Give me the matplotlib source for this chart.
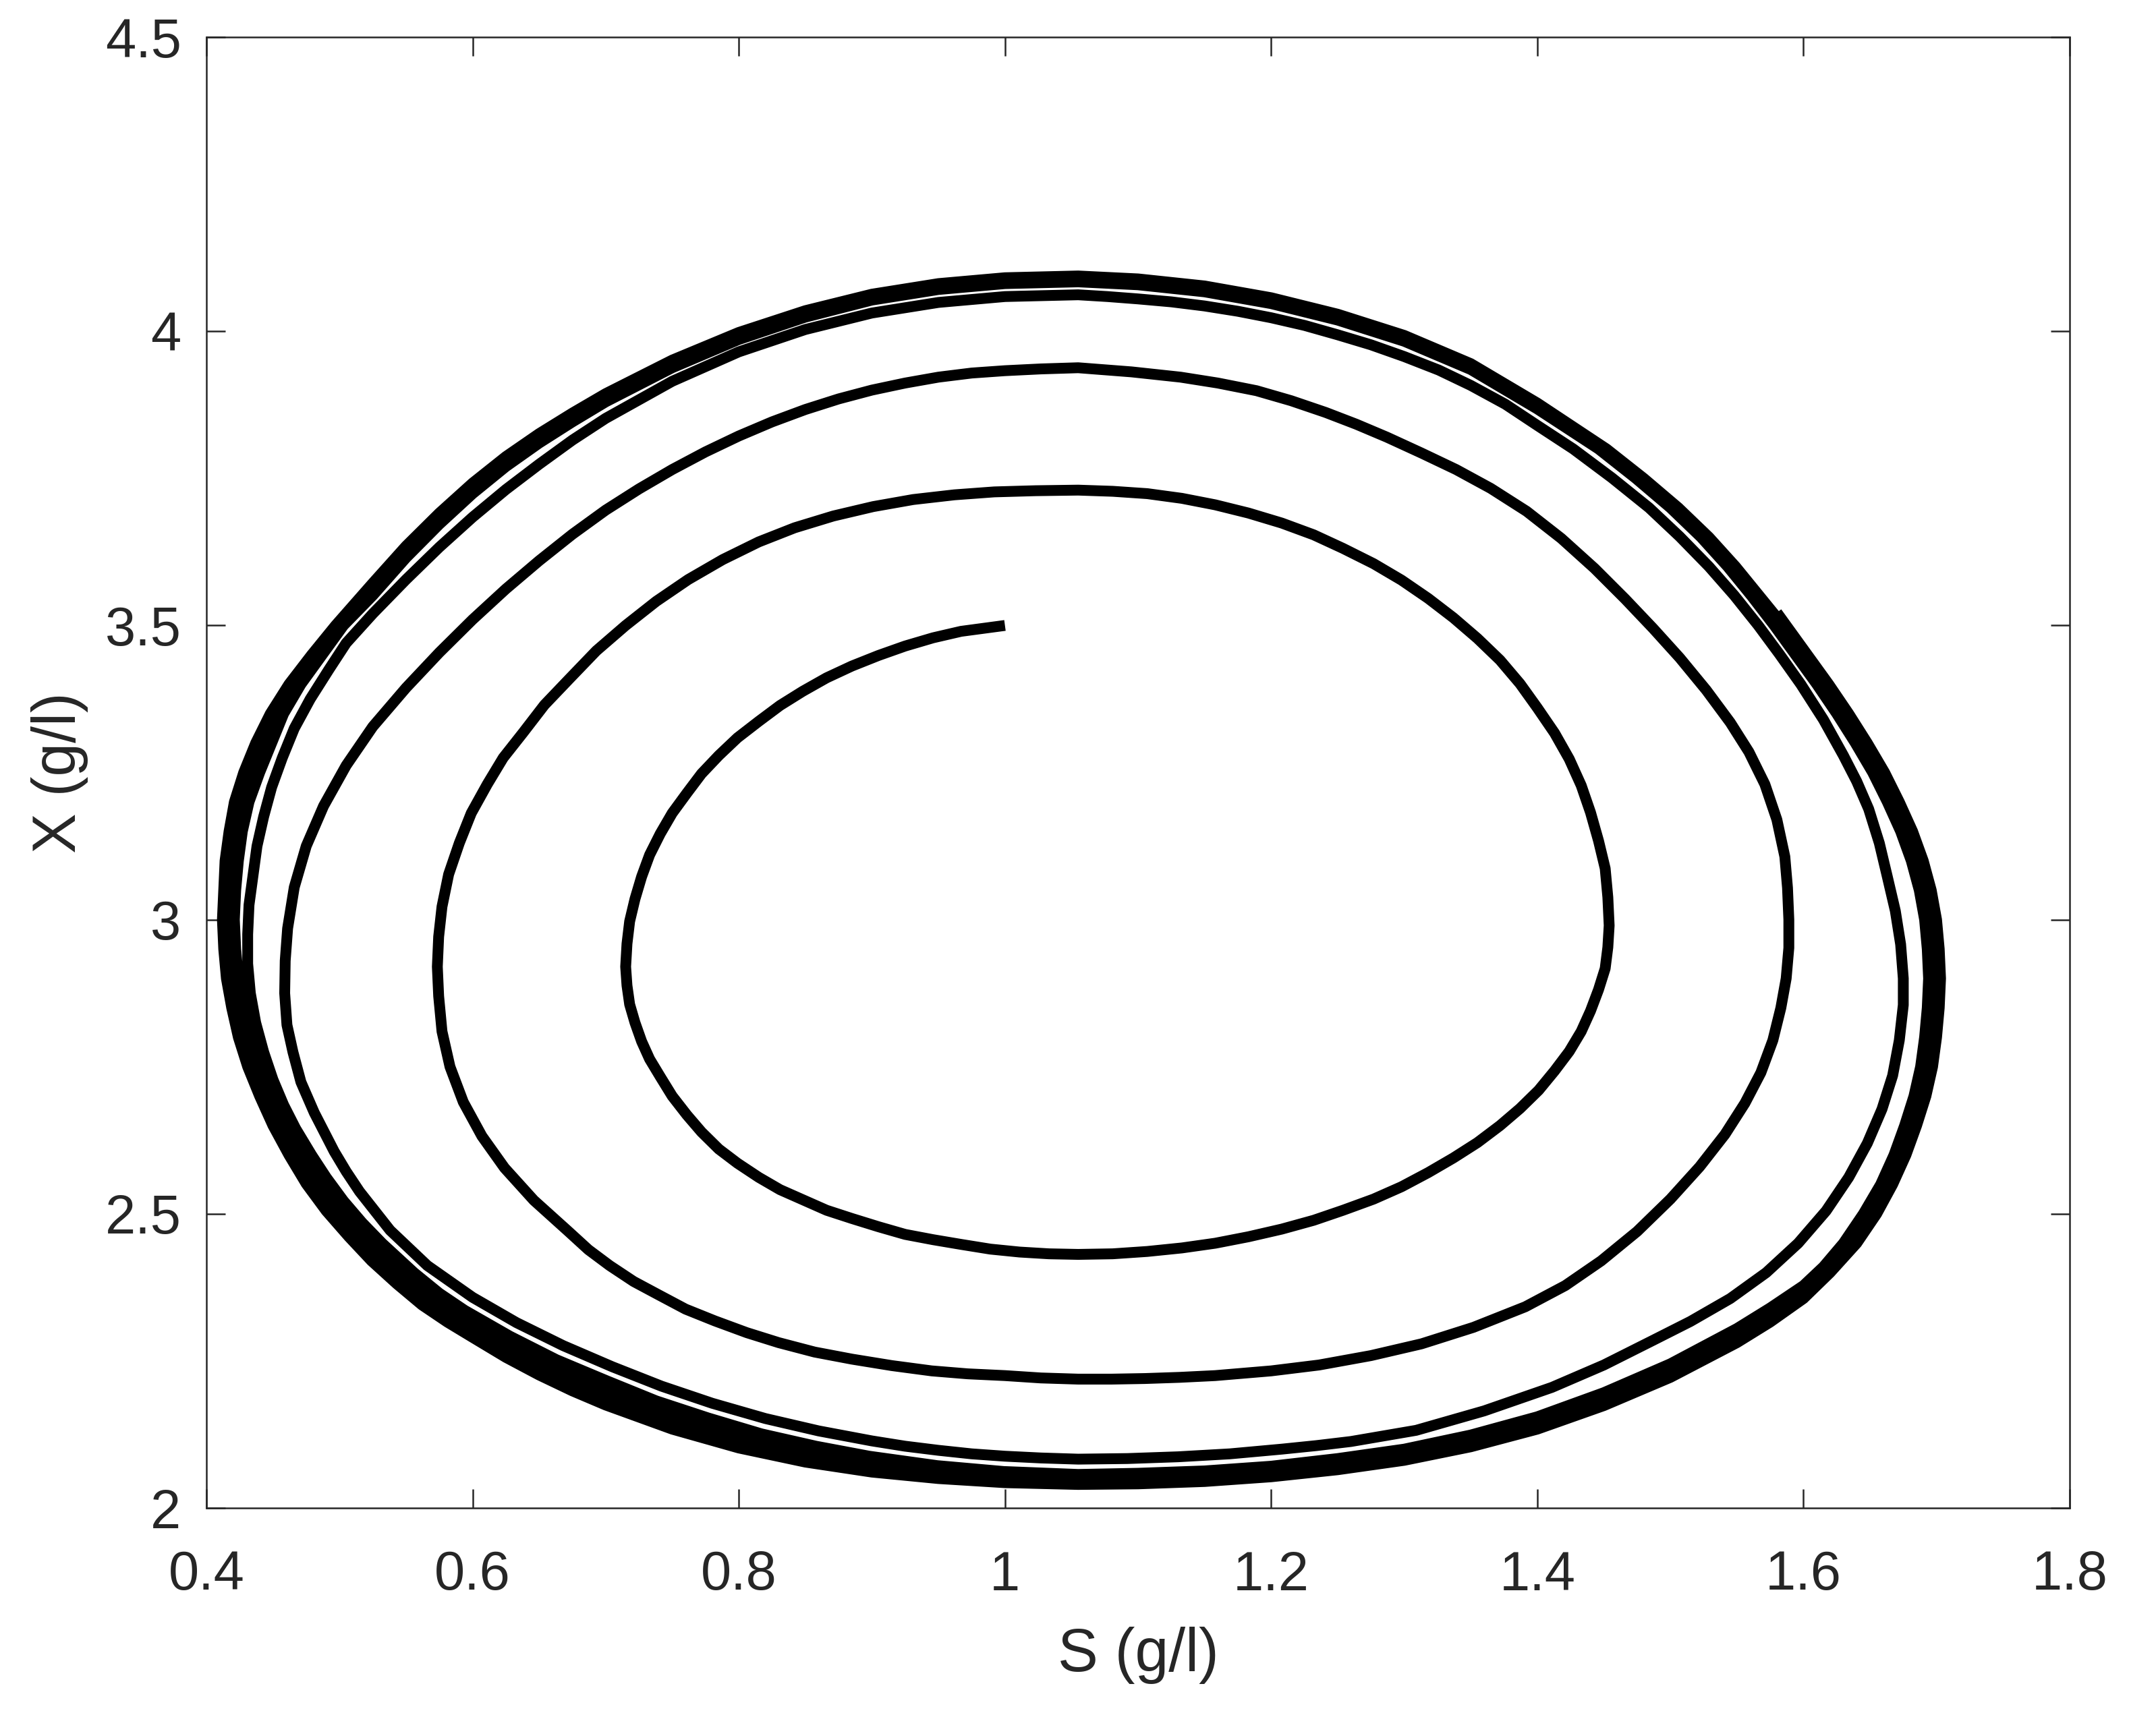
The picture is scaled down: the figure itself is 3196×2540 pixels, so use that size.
import numpy as np
import matplotlib
matplotlib.use("Agg")
import matplotlib.pyplot as plt
import matplotlib.ticker as ticker

# ── DATA: phase-plane trajectory, (S, X) in g/l ───────────────────────────────
# one list per turn of the spiral, from the start point out to the limit cycle

lap0 = [(1.000, 3.500), (0.967, 3.490), (0.946, 3.479), (0.925, 3.465),
        (0.905, 3.449), (0.885, 3.431), (0.866, 3.411), (0.848, 3.388), (0.831, 3.364),
        (0.815, 3.337), (0.799, 3.309), (0.785, 3.279), (0.772, 3.248), (0.761, 3.215),
        (0.750, 3.181), (0.741, 3.146), (0.733, 3.110), (0.727, 3.073), (0.722, 3.035),
        (0.718, 2.997), (0.716, 2.959), (0.715, 2.920), (0.716, 2.888), (0.718, 2.856),
        (0.722, 2.825), (0.727, 2.793), (0.733, 2.763), (0.741, 2.733), (0.750, 2.700),
        (0.761, 2.668), (0.772, 2.639), (0.785, 2.610), (0.799, 2.586), (0.815, 2.562),
        (0.831, 2.541), (0.848, 2.524), (0.866, 2.506), (0.885, 2.492), (0.905, 2.478),
        (0.925, 2.465), (0.946, 2.456), (0.967, 2.448), (0.989, 2.440), (1.011, 2.435),
        (1.033, 2.432), (1.055, 2.431), (1.081, 2.432), (1.107, 2.436), (1.133, 2.442),
        (1.158, 2.450), (1.183, 2.461), (1.208, 2.474), (1.232, 2.489), (1.254, 2.506),
        (1.277, 2.525), (1.298, 2.546), (1.318, 2.570), (1.337, 2.595), (1.355, 2.621),
        (1.372, 2.650), (1.387, 2.679), (1.401, 2.710), (1.413, 2.743), (1.424, 2.776),
        (1.433, 2.810), (1.440, 2.845), (1.446, 2.881), (1.451, 2.917), (1.453, 2.953),
        (1.454, 2.990), (1.453, 3.038), (1.451, 3.087), (1.446, 3.134), (1.440, 3.182),
        (1.433, 3.228), (1.424, 3.273), (1.413, 3.317), (1.400, 3.360), (1.387, 3.401),
        (1.372, 3.441), (1.355, 3.478), (1.337, 3.513), (1.318, 3.546), (1.298, 3.577),
        (1.277, 3.605), (1.254, 3.631), (1.232, 3.654), (1.208, 3.674), (1.183, 3.691),
        (1.158, 3.705), (1.133, 3.716), (1.107, 3.724), (1.081, 3.728)]

lap1 = [(1.055, 3.730), (1.023, 3.729), (0.992, 3.727), (0.962, 3.722), (0.931, 3.714),
        (0.901, 3.702), (0.871, 3.686), (0.842, 3.666), (0.815, 3.642), (0.788, 3.612),
        (0.762, 3.578), (0.738, 3.541), (0.715, 3.500), (0.693, 3.457), (0.673, 3.410),
        (0.654, 3.365), (0.638, 3.318), (0.623, 3.275), (0.611, 3.230), (0.599, 3.181),
        (0.590, 3.130), (0.582, 3.077), (0.577, 3.022), (0.5745, 2.971), (0.5735, 2.920),
        (0.5745, 2.870), (0.577, 2.810), (0.583, 2.750), (0.593, 2.690), (0.607, 2.632),
        (0.624, 2.578), (0.646, 2.523), (0.672, 2.470), (0.687, 2.439), (0.703, 2.412),
        (0.721, 2.385), (0.740, 2.362), (0.760, 2.338), (0.782, 2.318), (0.806, 2.298),
        (0.830, 2.281), (0.857, 2.265), (0.885, 2.253), (0.915, 2.242), (0.945, 2.233),
        (0.972, 2.228), (1.000, 2.225), (1.027, 2.221), (1.055, 2.219), (1.080, 2.219),
        (1.105, 2.220), (1.131, 2.222), (1.158, 2.225), (1.200, 2.233), (1.236, 2.243),
        (1.275, 2.259), (1.313, 2.279), (1.352, 2.307), (1.391, 2.342), (1.421, 2.378),
        (1.448, 2.420), (1.475, 2.470), (1.500, 2.525), (1.522, 2.580), (1.541, 2.635),
        (1.556, 2.688), (1.568, 2.740), (1.577, 2.795), (1.583, 2.850), (1.587, 2.900),
        (1.589, 2.952), (1.589, 3.000), (1.588, 3.054), (1.586, 3.107), (1.580, 3.170),
        (1.571, 3.230), (1.559, 3.285), (1.545, 3.335), (1.527, 3.390), (1.507, 3.445),
        (1.487, 3.495), (1.466, 3.545), (1.443, 3.597), (1.418, 3.648), (1.392, 3.694),
        (1.365, 3.733), (1.339, 3.765), (1.313, 3.793), (1.287, 3.820), (1.264, 3.842),
        (1.241, 3.862), (1.215, 3.882), (1.189, 3.899), (1.160, 3.912), (1.132, 3.922),
        (1.095, 3.931)]

lap2 = [(1.055, 3.938), (1.027, 3.936), (1.000, 3.933), (0.975, 3.929), (0.950, 3.922),
        (0.925, 3.912), (0.900, 3.900), (0.875, 3.885), (0.850, 3.867), (0.825, 3.846),
        (0.800, 3.822), (0.775, 3.795), (0.750, 3.765), (0.725, 3.732), (0.700, 3.696),
        (0.675, 3.655), (0.650, 3.610), (0.625, 3.562), (0.600, 3.510), (0.575, 3.454),
        (0.550, 3.394), (0.525, 3.328), (0.505, 3.262), (0.488, 3.193), (0.475, 3.125),
        (0.466, 3.055), (0.461, 2.985), (0.4592, 2.930), (0.4588, 2.875), (0.4605, 2.821),
        (0.465, 2.775), (0.471, 2.724), (0.481, 2.672), (0.496, 2.606), (0.505, 2.572),
        (0.515, 2.538), (0.538, 2.472), (0.566, 2.412), (0.600, 2.358), (0.633, 2.315),
        (0.668, 2.276), (0.705, 2.240), (0.742, 2.207), (0.780, 2.178), (0.820, 2.152),
        (0.860, 2.131), (0.900, 2.114), (0.925, 2.105), (0.950, 2.098), (0.975, 2.092),
        (1.000, 2.088), (1.027, 2.085), (1.055, 2.083), (1.092, 2.084), (1.130, 2.087),
        (1.169, 2.092), (1.208, 2.100), (1.234, 2.106), (1.260, 2.113), (1.309, 2.132),
        (1.360, 2.165), (1.411, 2.205), (1.450, 2.243), (1.487, 2.285), (1.515, 2.317),
        (1.545, 2.356), (1.572, 2.400), (1.596, 2.450), (1.617, 2.505), (1.634, 2.562),
        (1.648, 2.620), (1.659, 2.678), (1.667, 2.735), (1.672, 2.795), (1.675, 2.855),
        (1.675, 2.900), (1.673, 2.958), (1.669, 3.015), (1.663, 3.073), (1.657, 3.130),
        (1.649, 3.188), (1.640, 3.235), (1.630, 3.279), (1.615, 3.340), (1.598, 3.400),
        (1.582, 3.451), (1.566, 3.500), (1.548, 3.551), (1.529, 3.600), (1.507, 3.651),
        (1.484, 3.700), (1.456, 3.751), (1.427, 3.800), (1.400, 3.840), (1.376, 3.876),
        (1.350, 3.908), (1.326, 3.934), (1.300, 3.957), (1.275, 3.977), (1.250, 3.994),
        (1.225, 4.010), (1.200, 4.023), (1.175, 4.034), (1.150, 4.043), (1.125, 4.050),
        (1.100, 4.055), (1.077, 4.059)]

lap3 = [(1.055, 4.062), (1.000, 4.059), (0.950, 4.049), (0.900, 4.031), (0.850, 4.003),
        (0.800, 3.965), (0.750, 3.915), (0.700, 3.852), (0.675, 3.815), (0.650, 3.774),
        (0.625, 3.731), (0.600, 3.684), (0.575, 3.633), (0.550, 3.578), (0.525, 3.520),
        (0.505, 3.470), (0.492, 3.425), (0.478, 3.375), (0.466, 3.325), (0.457, 3.275),
        (0.449, 3.225), (0.443, 3.175), (0.438, 3.125), (0.435, 3.075), (0.432, 3.025),
        (0.431, 2.975), (0.431, 2.925), (0.433, 2.875), (0.437, 2.825), (0.443, 2.775),
        (0.450, 2.728), (0.458, 2.685), (0.467, 2.645), (0.479, 2.600), (0.490, 2.562),
        (0.503, 2.522), (0.517, 2.485), (0.532, 2.450), (0.556, 2.400), (0.575, 2.365),
        (0.594, 2.336), (0.628, 2.292), (0.663, 2.252), (0.701, 2.216), (0.738, 2.182),
        (0.777, 2.153), (0.817, 2.126), (0.858, 2.105), (0.898, 2.088), (0.949, 2.072),
        (0.999, 2.062), (1.055, 2.057), (1.100, 2.059), (1.150, 2.063), (1.200, 2.071),
        (1.250, 2.084), (1.300, 2.100), (1.350, 2.124), (1.400, 2.155), (1.450, 2.196),
        (1.500, 2.245), (1.550, 2.305), (1.575, 2.340), (1.600, 2.378), (1.615, 2.410),
        (1.630, 2.450), (1.645, 2.500), (1.658, 2.550), (1.668, 2.600), (1.676, 2.650),
        (1.683, 2.700), (1.688, 2.750), (1.691, 2.800), (1.693, 2.850), (1.694, 2.900),
        (1.693, 2.950), (1.691, 3.000), (1.687, 3.050), (1.681, 3.100), (1.673, 3.150),
        (1.663, 3.200), (1.652, 3.250), (1.639, 3.300), (1.625, 3.350), (1.610, 3.400),
        (1.594, 3.450), (1.578, 3.500), (1.561, 3.550), (1.543, 3.600), (1.523, 3.650),
        (1.500, 3.700), (1.474, 3.750), (1.446, 3.800), (1.400, 3.868), (1.350, 3.935),
        (1.300, 3.983), (1.250, 4.019), (1.200, 4.047), (1.150, 4.067), (1.100, 4.079)]

lap4 = [(1.055, 4.084), (1.000, 4.081), (0.950, 4.071), (0.900, 4.053), (0.850, 4.024),
        (0.800, 3.986), (0.750, 3.938), (0.700, 3.880), (0.675, 3.846), (0.650, 3.810),
        (0.625, 3.770), (0.600, 3.724), (0.575, 3.672), (0.550, 3.615), (0.525, 3.551),
        (0.503, 3.500), (0.487, 3.450), (0.471, 3.400), (0.458, 3.350), (0.449, 3.300),
        (0.440, 3.250), (0.432, 3.200), (0.427, 3.150), (0.424, 3.100), (0.422, 3.050),
        (0.421, 3.000), (0.422, 2.950), (0.424, 2.900), (0.428, 2.850), (0.434, 2.800),
        (0.441, 2.750), (0.450, 2.700), (0.460, 2.650), (0.473, 2.600), (0.487, 2.551),
        (0.503, 2.505), (0.520, 2.461), (0.543, 2.412), (0.562, 2.375), (0.581, 2.343),
        (0.600, 2.316), (0.625, 2.283), (0.650, 2.254), (0.675, 2.227), (0.700, 2.203),
        (0.750, 2.160), (0.800, 2.126), (0.850, 2.099), (0.900, 2.079), (0.950, 2.065),
        (1.000, 2.056), (1.055, 2.052), (1.100, 2.053), (1.150, 2.057), (1.200, 2.065),
        (1.250, 2.077), (1.300, 2.094), (1.350, 2.117), (1.400, 2.148), (1.450, 2.188),
        (1.500, 2.237), (1.550, 2.297), (1.575, 2.331), (1.600, 2.370), (1.617, 2.405),
        (1.633, 2.450), (1.648, 2.500), (1.661, 2.550), (1.671, 2.600), (1.679, 2.650),
        (1.686, 2.700), (1.691, 2.750), (1.694, 2.800), (1.696, 2.850), (1.697, 2.900),
        (1.696, 2.950), (1.694, 3.000), (1.690, 3.050), (1.684, 3.100), (1.676, 3.150),
        (1.666, 3.200), (1.655, 3.250), (1.642, 3.300), (1.628, 3.350), (1.613, 3.400),
        (1.597, 3.450), (1.581, 3.500), (1.564, 3.550), (1.546, 3.600), (1.526, 3.650),
        (1.503, 3.700), (1.477, 3.750), (1.449, 3.800), (1.400, 3.873), (1.350, 3.940),
        (1.300, 3.988), (1.250, 4.024), (1.200, 4.052), (1.150, 4.072), (1.100, 4.084)]

lap5 = [(1.055, 4.091), (1.000, 4.088), (0.950, 4.077), (0.900, 4.059), (0.850, 4.031),
        (0.800, 3.993), (0.750, 3.946), (0.700, 3.888), (0.675, 3.855), (0.650, 3.819),
        (0.625, 3.779), (0.600, 3.734), (0.575, 3.682), (0.550, 3.625), (0.525, 3.562),
        (0.500, 3.500), (0.483, 3.450), (0.466, 3.400), (0.452, 3.350), (0.442, 3.300),
        (0.433, 3.250), (0.426, 3.200), (0.421, 3.150), (0.418, 3.100), (0.417, 3.050),
        (0.416, 3.000), (0.417, 2.950), (0.419, 2.900), (0.423, 2.850), (0.428, 2.800),
        (0.435, 2.750), (0.444, 2.700), (0.455, 2.650), (0.467, 2.600), (0.481, 2.551),
        (0.496, 2.505), (0.514, 2.461), (0.528, 2.428), (0.543, 2.396), (0.562, 2.360),
        (0.581, 2.329), (0.600, 2.303), (0.625, 2.269), (0.650, 2.240), (0.675, 2.213),
        (0.700, 2.189), (0.750, 2.147), (0.800, 2.114), (0.850, 2.088), (0.900, 2.070),
        (0.950, 2.057), (1.000, 2.049), (1.055, 2.046), (1.100, 2.047), (1.150, 2.051),
        (1.200, 2.059), (1.250, 2.071), (1.300, 2.087), (1.350, 2.110), (1.400, 2.141),
        (1.450, 2.181), (1.500, 2.229), (1.550, 2.289), (1.575, 2.323), (1.600, 2.363),
        (1.620, 2.405), (1.637, 2.450), (1.652, 2.500), (1.664, 2.550), (1.674, 2.600),
        (1.682, 2.650), (1.689, 2.700), (1.694, 2.750), (1.697, 2.800), (1.699, 2.850),
        (1.700, 2.900), (1.699, 2.950), (1.697, 3.000), (1.693, 3.050), (1.687, 3.100),
        (1.679, 3.150), (1.669, 3.200), (1.658, 3.250), (1.645, 3.300), (1.631, 3.350),
        (1.617, 3.400), (1.601, 3.450), (1.585, 3.500), (1.567, 3.550), (1.549, 3.600),
        (1.529, 3.650), (1.506, 3.700), (1.480, 3.750), (1.452, 3.800), (1.400, 3.878),
        (1.350, 3.945), (1.300, 3.993), (1.250, 4.029), (1.200, 4.057), (1.150, 4.077),
        (1.100, 4.089)]

# last turn, stops on the upper right of the cycle
lap6 = [(1.055, 4.094), (1.000, 4.091), (0.950, 4.081), (0.900, 4.063), (0.850, 4.035),
        (0.800, 3.998), (0.750, 3.951), (0.700, 3.894), (0.675, 3.861), (0.650, 3.826),
        (0.625, 3.787), (0.600, 3.742), (0.575, 3.691), (0.550, 3.635), (0.525, 3.572),
        (0.497, 3.500), (0.479, 3.450), (0.462, 3.400), (0.448, 3.350), (0.437, 3.300),
        (0.428, 3.250), (0.421, 3.200), (0.417, 3.150), (0.414, 3.100), (0.413, 3.050),
        (0.412, 3.000), (0.413, 2.950), (0.415, 2.900), (0.419, 2.850), (0.424, 2.800),
        (0.431, 2.750), (0.440, 2.700), (0.450, 2.650), (0.462, 2.600), (0.475, 2.551),
        (0.490, 2.505), (0.507, 2.461), (0.524, 2.420), (0.543, 2.381), (0.562, 2.345),
        (0.581, 2.316), (0.600, 2.290), (0.625, 2.256), (0.650, 2.226), (0.675, 2.199),
        (0.700, 2.175), (0.750, 2.134), (0.800, 2.102), (0.850, 2.078), (0.900, 2.061),
        (0.950, 2.050), (1.000, 2.043), (1.055, 2.040), (1.100, 2.041), (1.150, 2.045),
        (1.200, 2.053), (1.250, 2.065), (1.300, 2.081), (1.350, 2.104), (1.400, 2.134),
        (1.450, 2.174), (1.500, 2.222), (1.550, 2.281), (1.575, 2.316), (1.600, 2.356),
        (1.620, 2.400), (1.640, 2.450), (1.655, 2.500), (1.667, 2.550), (1.677, 2.600),
        (1.685, 2.650), (1.692, 2.700), (1.697, 2.750), (1.700, 2.800), (1.702, 2.850),
        (1.703, 2.900), (1.702, 2.950), (1.700, 3.000), (1.696, 3.050), (1.690, 3.100),
        (1.682, 3.150), (1.672, 3.200), (1.661, 3.250), (1.648, 3.300), (1.634, 3.350),
        (1.619, 3.400), (1.603, 3.450), (1.587, 3.500), (1.580, 3.522)]

X_TICKS = [0.4, 0.6, 0.8, 1.0, 1.2, 1.4, 1.6, 1.8]
Y_TICKS = [2.0, 2.5, 3.0, 3.5, 4.0, 4.5]
X_LABEL = "S (g/l)"
Y_LABEL = "X (g/l)"
# ─────────────────────────────────────────────────────────────────────────────

AXIS_COLOR = "#262626"
plt.rcParams["font.family"] = ["Liberation Sans", "DejaVu Sans"]

traj = np.array(lap0 + lap1 + lap2 + lap3 + lap4 + lap5 + lap6)

fig = plt.figure(figsize=(3196 / 300, 2540 / 300), dpi=300)
ax = fig.add_axes([306 / 3196, 1 - 2236 / 2540, 2762 / 3196, 2181 / 2540])

ax.plot(traj[:, 0], traj[:, 1], color="black", linewidth=3.85,
        solid_joinstyle="round", solid_capstyle="butt")

ax.set_xlim(0.4, 1.8)
ax.set_ylim(2.0, 4.5)
ax.set_xticks(X_TICKS)
ax.set_yticks(Y_TICKS)
ax.xaxis.set_major_formatter(ticker.FormatStrFormatter("%g"))
ax.yaxis.set_major_formatter(ticker.FormatStrFormatter("%g"))

ax.tick_params(axis="both", which="major", direction="in", length=6.7, width=0.6,
               top=True, right=True, labelsize=19.5, colors=AXIS_COLOR)
ax.tick_params(axis="x", pad=15)
ax.tick_params(axis="y", pad=9)
for sp in ax.spines.values():
    sp.set_color(AXIS_COLOR)
    sp.set_linewidth(0.6)

ax.set_xlabel(X_LABEL, fontsize=21.5, color=AXIS_COLOR, labelpad=9)
ax.set_ylabel(Y_LABEL, fontsize=21.5, color=AXIS_COLOR, labelpad=6)

fig.savefig("out.png", dpi=300)
